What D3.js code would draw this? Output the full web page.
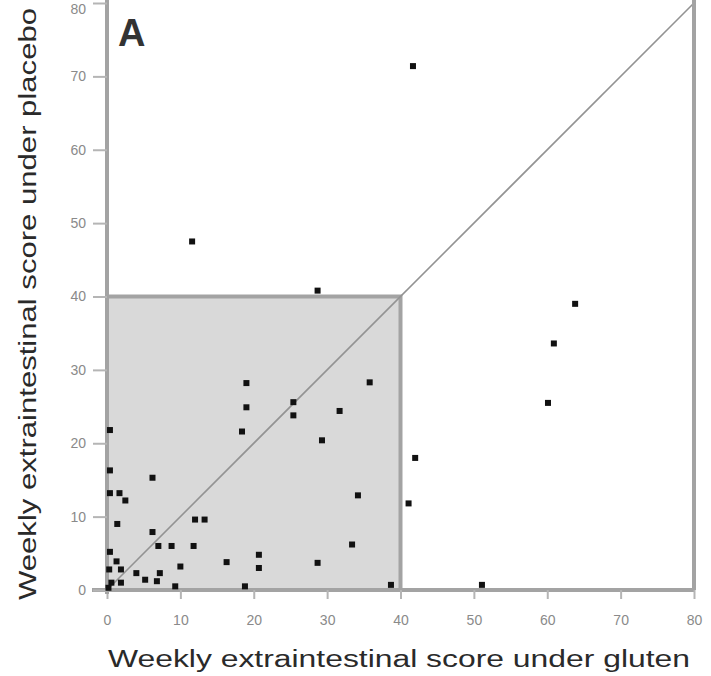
<!DOCTYPE html>
<html>
<head>
<meta charset="utf-8">
<script src="https://cdn.jsdelivr.net/npm/d3@7"></script>
<style>
  html, body { margin: 0; padding: 0; background: #fff; }
  svg { display: block; }
</style>
</head>
<body>
<svg id="chart" width="711" height="676"></svg>
<script>
// Data: weekly extraintestinal score under gluten (x) vs under placebo (y)
const glutenScores = [41.7, 11.6, 28.7, 63.8, 60.9, 60.1, 42.0, 41.1, 51.1, 38.7,
  35.8, 31.7, 29.3, 34.2, 33.4, 28.7, 25.4, 25.4, 19.0, 19.0, 18.4, 20.7, 20.7, 16.3, 18.8,
  12.0, 13.3, 11.8, 10.0, 9.3, 6.2, 6.2, 7.0, 8.8, 7.2, 5.2, 6.8, 4.0, 2.5, 1.4,
  0.4, 0.4, 0.4, 1.7, 0.4, 1.3, 0.3, 1.9, 0.6, 1.9, 0.2];
const placeboScores = [71.4, 47.5, 40.8, 39.0, 33.6, 25.5, 18.0, 11.8, 0.7, 0.7,
  28.3, 24.4, 20.4, 12.9, 6.2, 3.7, 25.6, 23.8, 28.2, 24.9, 21.6, 4.8, 3.0, 3.8, 0.5,
  9.6, 9.6, 6.0, 3.2, 0.5, 15.3, 7.9, 6.0, 6.0, 2.3, 1.4, 1.2, 2.3, 12.2, 9.0,
  21.8, 16.3, 13.2, 13.2, 5.2, 3.9, 2.8, 2.8, 1.0, 1.0, 0.3];
const tickValues = [0, 10, 20, 30, 40, 50, 60, 70, 80];
const boxLimit = 40;
const panelLabel = "A";
const xTitle = "Weekly extraintestinal score under gluten";
const yTitle = "Weekly extraintestinal score under placebo";

const points = glutenScores.map((g, i) => ({ x: g, y: placeboScores[i] }));

const svg = d3.select("#chart");
const x = d3.scaleLinear().domain([0, 80]).range([107, 694]);
const y = d3.scaleLinear().domain([0, 80]).range([590, 3]);

const axisColor = "#a3a3a3";
const labelColor = "#8a8a8a";

// Shaded box (0..40 x 0..40)
svg.append("rect")
  .attr("x", x(0))
  .attr("y", y(boxLimit))
  .attr("width", x(boxLimit) - x(0))
  .attr("height", y(0) - y(boxLimit))
  .attr("fill", "#d9d9d9")
  .attr("stroke", axisColor)
  .attr("stroke-width", 4);

// Identity line
svg.append("line")
  .attr("x1", x(0)).attr("y1", y(0))
  .attr("x2", x(80)).attr("y2", y(80))
  .attr("stroke", "#939393")
  .attr("stroke-width", 1.6);

// Right border
svg.append("line")
  .attr("x1", x(80)).attr("x2", x(80))
  .attr("y1", 0).attr("y2", y(0))
  .attr("stroke", axisColor)
  .attr("stroke-width", 4);

// Axes
const xAxis = svg.append("g")
  .attr("transform", `translate(0,${y(0)})`)
  .call(d3.axisBottom(x).tickValues(tickValues).tickSize(9).tickPadding(16).tickSizeOuter(0));
const yAxis = svg.append("g")
  .attr("transform", `translate(${x(0)},0)`)
  .call(d3.axisLeft(y).tickValues(tickValues).tickSize(14).tickPadding(7).tickSizeOuter(0));

[xAxis, yAxis].forEach(g => {
  g.select(".domain").attr("stroke", axisColor).attr("stroke-width", 4);
  g.selectAll(".tick line").attr("stroke", "#b5b5b5").attr("stroke-width", 2);
  g.selectAll(".tick text")
    .attr("fill", labelColor)
    .attr("font-family", "Liberation Sans, Arial, sans-serif")
    .attr("font-size", 14);
});
// keep the top label inside the picture
yAxis.selectAll(".tick text").filter(d => d === 80).attr("dy", "0.75em");
// extend bottom axis line slightly left as in reference
xAxis.select(".domain").attr("d", `M${x(0) - 15},0H${x(80)}`);
yAxis.select(".domain").attr("d", `M0,${y(0) + 4}V0`);

// Points
svg.append("g")
  .selectAll("rect")
  .data(points)
  .join("rect")
  .attr("x", d => x(d.x) - 3)
  .attr("y", d => y(d.y) - 3)
  .attr("width", 6)
  .attr("height", 6)
  .attr("fill", "#111");

// Panel label
svg.append("text")
  .attr("x", 118)
  .attr("y", 46)
  .attr("font-family", "Liberation Sans, Arial, sans-serif")
  .attr("font-weight", "bold")
  .attr("font-size", 38)
  .attr("fill", "#333")
  .text(panelLabel);

// Axis titles
svg.append("text")
  .attr("x", 108)
  .attr("y", 667)
  .attr("font-family", "Liberation Sans, Arial, sans-serif")
  .attr("font-size", 23)
  .attr("fill", "#2a2a2a")
  .attr("textLength", 582)
  .attr("lengthAdjust", "spacingAndGlyphs")
  .text(xTitle);

svg.append("text")
  .attr("transform", "translate(36,600) rotate(-90)")
  .attr("x", 0)
  .attr("y", 0)
  .attr("font-family", "Liberation Sans, Arial, sans-serif")
  .attr("font-size", 23)
  .attr("fill", "#2a2a2a")
  .attr("textLength", 592)
  .attr("lengthAdjust", "spacingAndGlyphs")
  .text(yTitle);
</script>
</body>
</html>
